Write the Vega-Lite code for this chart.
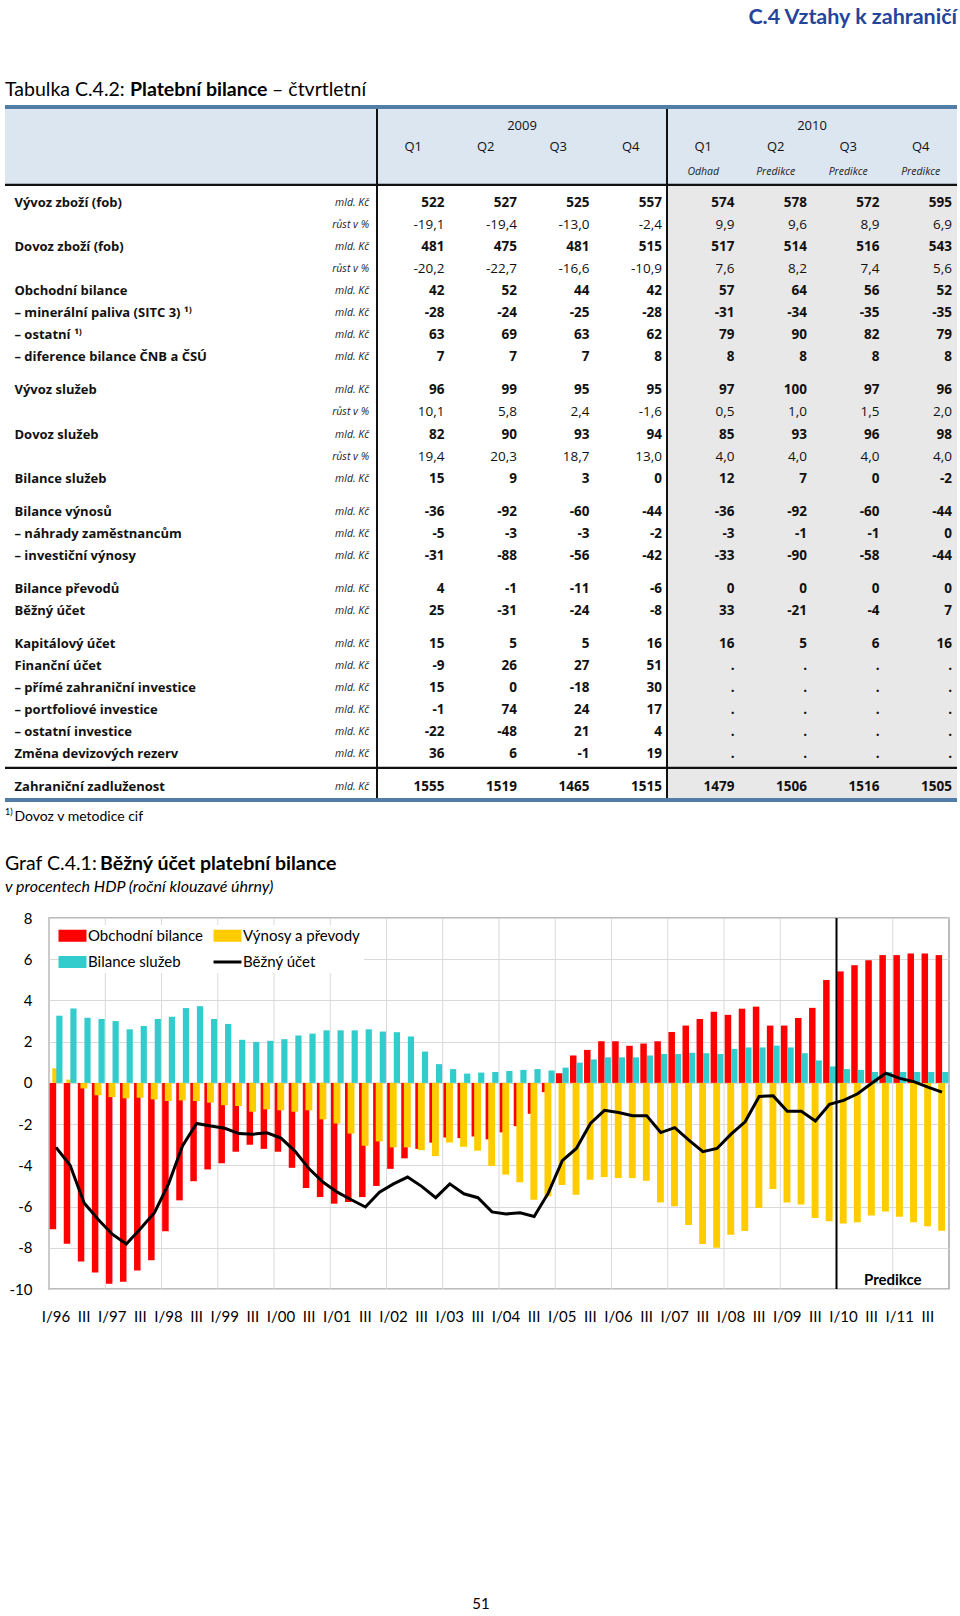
{
  "$schema": "https://vega.github.io/schema/vega-lite/v6.json",
  "padding": {"left": 2, "top": 0, "right": 0, "bottom": 0},
  "background": "white",
  "spacing": 0,
  "resolve": {"scale": {"color": "independent"}, "legend": {"color": "independent"}},
  "title": {"text": "51", "orient": "bottom", "anchor": "middle", "offset": 272, "font": "Lato", "fontSize": 15, "fontWeight": "normal", "color": "#000000"},
  "config": {"view": {"stroke": null}},
  "datasets": {
    "cols": [
      {"key": "label", "c": -5}, {"key": "unit", "c": 0},
      {"key": "a1", "c": 1}, {"key": "a2", "c": 2}, {"key": "a3", "c": 3}, {"key": "a4", "c": 4},
      {"key": "a5", "c": 5}, {"key": "a6", "c": 6}, {"key": "a7", "c": 7}, {"key": "a8", "c": 8}
    ],
    "tab": [
      {"r": 1, "label": "Vývoz zboží (fob)", "unit": "mld. Kč", "a1": "522", "a2": "527", "a3": "525", "a4": "557", "a5": "574", "a6": "578", "a7": "572", "a8": "595"},
      {"r": 2, "label": "", "unit": "růst v %", "a1": "-19,1", "a2": "-19,4", "a3": "-13,0", "a4": "-2,4", "a5": "9,9", "a6": "9,6", "a7": "8,9", "a8": "6,9"},
      {"r": 3, "label": "Dovoz zboží (fob)", "unit": "mld. Kč", "a1": "481", "a2": "475", "a3": "481", "a4": "515", "a5": "517", "a6": "514", "a7": "516", "a8": "543"},
      {"r": 4, "label": "", "unit": "růst v %", "a1": "-20,2", "a2": "-22,7", "a3": "-16,6", "a4": "-10,9", "a5": "7,6", "a6": "8,2", "a7": "7,4", "a8": "5,6"},
      {"r": 5, "label": "Obchodní bilance", "unit": "mld. Kč", "a1": "42", "a2": "52", "a3": "44", "a4": "42", "a5": "57", "a6": "64", "a7": "56", "a8": "52"},
      {"r": 6, "label": "– minerální paliva (SITC 3) ¹⁾", "unit": "mld. Kč", "a1": "-28", "a2": "-24", "a3": "-25", "a4": "-28", "a5": "-31", "a6": "-34", "a7": "-35", "a8": "-35"},
      {"r": 7, "label": "– ostatní ¹⁾", "unit": "mld. Kč", "a1": "63", "a2": "69", "a3": "63", "a4": "62", "a5": "79", "a6": "90", "a7": "82", "a8": "79"},
      {"r": 8, "label": "– diference bilance ČNB a ČSÚ", "unit": "mld. Kč", "a1": "7", "a2": "7", "a3": "7", "a4": "8", "a5": "8", "a6": "8", "a7": "8", "a8": "8"},
      {"r": 9.5, "label": "Vývoz služeb", "unit": "mld. Kč", "a1": "96", "a2": "99", "a3": "95", "a4": "95", "a5": "97", "a6": "100", "a7": "97", "a8": "96"},
      {"r": 10.5, "label": "", "unit": "růst v %", "a1": "10,1", "a2": "5,8", "a3": "2,4", "a4": "-1,6", "a5": "0,5", "a6": "1,0", "a7": "1,5", "a8": "2,0"},
      {"r": 11.5, "label": "Dovoz služeb", "unit": "mld. Kč", "a1": "82", "a2": "90", "a3": "93", "a4": "94", "a5": "85", "a6": "93", "a7": "96", "a8": "98"},
      {"r": 12.5, "label": "", "unit": "růst v %", "a1": "19,4", "a2": "20,3", "a3": "18,7", "a4": "13,0", "a5": "4,0", "a6": "4,0", "a7": "4,0", "a8": "4,0"},
      {"r": 13.5, "label": "Bilance služeb", "unit": "mld. Kč", "a1": "15", "a2": "9", "a3": "3", "a4": "0", "a5": "12", "a6": "7", "a7": "0", "a8": "-2"},
      {"r": 15, "label": "Bilance výnosů", "unit": "mld. Kč", "a1": "-36", "a2": "-92", "a3": "-60", "a4": "-44", "a5": "-36", "a6": "-92", "a7": "-60", "a8": "-44"},
      {"r": 16, "label": "– náhrady zaměstnancům", "unit": "mld. Kč", "a1": "-5", "a2": "-3", "a3": "-3", "a4": "-2", "a5": "-3", "a6": "-1", "a7": "-1", "a8": "0"},
      {"r": 17, "label": "– investiční výnosy", "unit": "mld. Kč", "a1": "-31", "a2": "-88", "a3": "-56", "a4": "-42", "a5": "-33", "a6": "-90", "a7": "-58", "a8": "-44"},
      {"r": 18.5, "label": "Bilance převodů", "unit": "mld. Kč", "a1": "4", "a2": "-1", "a3": "-11", "a4": "-6", "a5": "0", "a6": "0", "a7": "0", "a8": "0"},
      {"r": 19.5, "label": "Běžný účet", "unit": "mld. Kč", "a1": "25", "a2": "-31", "a3": "-24", "a4": "-8", "a5": "33", "a6": "-21", "a7": "-4", "a8": "7"},
      {"r": 21, "label": "Kapitálový účet", "unit": "mld. Kč", "a1": "15", "a2": "5", "a3": "5", "a4": "16", "a5": "16", "a6": "5", "a7": "6", "a8": "16"},
      {"r": 22, "label": "Finanční účet", "unit": "mld. Kč", "a1": "-9", "a2": "26", "a3": "27", "a4": "51", "a5": ".", "a6": ".", "a7": ".", "a8": "."},
      {"r": 23, "label": "– přímé zahraniční investice", "unit": "mld. Kč", "a1": "15", "a2": "0", "a3": "-18", "a4": "30", "a5": ".", "a6": ".", "a7": ".", "a8": "."},
      {"r": 24, "label": "– portfoliové investice", "unit": "mld. Kč", "a1": "-1", "a2": "74", "a3": "24", "a4": "17", "a5": ".", "a6": ".", "a7": ".", "a8": "."},
      {"r": 25, "label": "– ostatní investice", "unit": "mld. Kč", "a1": "-22", "a2": "-48", "a3": "21", "a4": "4", "a5": ".", "a6": ".", "a7": ".", "a8": "."},
      {"r": 26, "label": "Změna devizových rezerv", "unit": "mld. Kč", "a1": "36", "a2": "6", "a3": "-1", "a4": "19", "a5": ".", "a6": ".", "a7": ".", "a8": "."},
      {"r": 27.5, "label": "Zahraniční zadluženost", "unit": "mld. Kč", "a1": "1555", "a2": "1519", "a3": "1465", "a4": "1515", "a5": "1479", "a6": "1506", "a7": "1516", "a8": "1505"}
    ],
    "bop": [
      {"q": "I/96", "ob": -7.1, "bs": 3.26, "vp": 0.71, "bu": -3.13},
      {"q": "II/96", "ob": -7.8, "bs": 3.61, "vp": 0.16, "bu": -4.0},
      {"q": "III/96", "ob": -8.67, "bs": 3.16, "vp": -0.27, "bu": -5.83},
      {"q": "IV/96", "ob": -9.2, "bs": 3.1, "vp": -0.6, "bu": -6.63},
      {"q": "I/97", "ob": -9.75, "bs": 3.0, "vp": -0.69, "bu": -7.34},
      {"q": "II/97", "ob": -9.65, "bs": 2.6, "vp": -0.75, "bu": -7.82},
      {"q": "III/97", "ob": -9.1, "bs": 2.76, "vp": -0.72, "bu": -7.08},
      {"q": "IV/97", "ob": -8.6, "bs": 3.1, "vp": -0.8, "bu": -6.3},
      {"q": "I/98", "ob": -7.2, "bs": 3.21, "vp": -0.88, "bu": -4.9},
      {"q": "II/98", "ob": -5.7, "bs": 3.63, "vp": -0.85, "bu": -3.05},
      {"q": "III/98", "ob": -4.77, "bs": 3.72, "vp": -0.88, "bu": -1.97},
      {"q": "IV/98", "ob": -4.2, "bs": 3.1, "vp": -0.96, "bu": -2.09},
      {"q": "I/99", "ob": -3.9, "bs": 2.86, "vp": -1.08, "bu": -2.2},
      {"q": "II/99", "ob": -3.34, "bs": 2.09, "vp": -1.12, "bu": -2.46},
      {"q": "III/99", "ob": -3.0, "bs": 1.99, "vp": -1.4, "bu": -2.49},
      {"q": "IV/99", "ob": -3.2, "bs": 2.04, "vp": -1.28, "bu": -2.42},
      {"q": "I/00", "ob": -3.34, "bs": 2.12, "vp": -1.33, "bu": -2.68},
      {"q": "II/00", "ob": -4.12, "bs": 2.3, "vp": -1.4, "bu": -3.32},
      {"q": "III/00", "ob": -5.1, "bs": 2.39, "vp": -1.33, "bu": -4.17},
      {"q": "IV/00", "ob": -5.54, "bs": 2.55, "vp": -1.77, "bu": -4.82},
      {"q": "I/01", "ob": -5.86, "bs": 2.55, "vp": -1.97, "bu": -5.3},
      {"q": "II/01", "ob": -5.78, "bs": 2.55, "vp": -2.46, "bu": -5.67},
      {"q": "III/01", "ob": -5.54, "bs": 2.6, "vp": -3.05, "bu": -6.02},
      {"q": "IV/01", "ob": -5.0, "bs": 2.49, "vp": -2.84, "bu": -5.3},
      {"q": "I/02", "ob": -4.17, "bs": 2.46, "vp": -3.13, "bu": -4.9},
      {"q": "II/02", "ob": -3.66, "bs": 2.25, "vp": -3.13, "bu": -4.57},
      {"q": "III/02", "ob": -3.2, "bs": 1.52, "vp": -3.26, "bu": -5.02},
      {"q": "IV/02", "ob": -2.9, "bs": 0.91, "vp": -3.55, "bu": -5.57},
      {"q": "I/03", "ob": -2.65, "bs": 0.67, "vp": -2.89, "bu": -4.9},
      {"q": "II/03", "ob": -2.68, "bs": 0.45, "vp": -3.1, "bu": -5.38},
      {"q": "III/03", "ob": -2.6, "bs": 0.5, "vp": -3.29, "bu": -5.57},
      {"q": "IV/03", "ob": -2.74, "bs": 0.53, "vp": -4.03, "bu": -6.26},
      {"q": "I/04", "ob": -2.4, "bs": 0.58, "vp": -4.45, "bu": -6.36},
      {"q": "II/04", "ob": -2.1, "bs": 0.63, "vp": -4.82, "bu": -6.3},
      {"q": "III/04", "ob": -1.5, "bs": 0.67, "vp": -5.67, "bu": -6.48},
      {"q": "IV/04", "ob": -0.45, "bs": 0.6, "vp": -5.5, "bu": -5.35},
      {"q": "I/05", "ob": 0.47, "bs": 0.74, "vp": -4.96, "bu": -3.77},
      {"q": "II/05", "ob": 1.33, "bs": 0.98, "vp": -5.43, "bu": -3.18},
      {"q": "III/05", "ob": 1.6, "bs": 1.14, "vp": -4.7, "bu": -1.97},
      {"q": "IV/05", "ob": 2.02, "bs": 1.24, "vp": -4.57, "bu": -1.33},
      {"q": "I/06", "ob": 2.02, "bs": 1.24, "vp": -4.62, "bu": -1.44},
      {"q": "II/06", "ob": 1.8, "bs": 1.24, "vp": -4.62, "bu": -1.59},
      {"q": "III/06", "ob": 1.91, "bs": 1.33, "vp": -4.75, "bu": -1.59},
      {"q": "IV/06", "ob": 2.02, "bs": 1.4, "vp": -5.8, "bu": -2.41},
      {"q": "I/07", "ob": 2.47, "bs": 1.4, "vp": -5.99, "bu": -2.17},
      {"q": "II/07", "ob": 2.78, "bs": 1.46, "vp": -6.9, "bu": -2.78},
      {"q": "III/07", "ob": 3.1, "bs": 1.44, "vp": -7.82, "bu": -3.34},
      {"q": "IV/07", "ob": 3.45, "bs": 1.4, "vp": -8.0, "bu": -3.18},
      {"q": "I/08", "ob": 3.3, "bs": 1.65, "vp": -7.37, "bu": -2.49},
      {"q": "II/08", "ob": 3.6, "bs": 1.72, "vp": -7.19, "bu": -1.89},
      {"q": "III/08", "ob": 3.7, "bs": 1.72, "vp": -6.07, "bu": -0.66},
      {"q": "IV/08", "ob": 2.78, "bs": 1.81, "vp": -5.15, "bu": -0.63},
      {"q": "I/09", "ob": 2.78, "bs": 1.72, "vp": -5.8, "bu": -1.38},
      {"q": "II/09", "ob": 3.15, "bs": 1.44, "vp": -5.9, "bu": -1.38},
      {"q": "III/09", "ob": 3.64, "bs": 1.09, "vp": -6.55, "bu": -1.85},
      {"q": "IV/09", "ob": 4.99, "bs": 0.8, "vp": -6.71, "bu": -1.04},
      {"q": "I/10", "ob": 5.41, "bs": 0.67, "vp": -6.82, "bu": -0.85},
      {"q": "II/10", "ob": 5.71, "bs": 0.63, "vp": -6.76, "bu": -0.53},
      {"q": "III/10", "ob": 5.95, "bs": 0.53, "vp": -6.44, "bu": -0.02},
      {"q": "IV/10", "ob": 6.2, "bs": 0.53, "vp": -6.24, "bu": 0.47},
      {"q": "I/11", "ob": 6.2, "bs": 0.53, "vp": -6.5, "bu": 0.22},
      {"q": "II/11", "ob": 6.28, "bs": 0.53, "vp": -6.76, "bu": 0.06},
      {"q": "III/11", "ob": 6.28, "bs": 0.53, "vp": -6.95, "bu": -0.21},
      {"q": "IV/11", "ob": 6.2, "bs": 0.53, "vp": -7.17, "bu": -0.45}
    ]
  },
  "vconcat": [
    {
      "width": 908,
      "height": 910,
      "encoding": {
        "x": {"field": "c", "type": "quantitative", "scale": {"domain": [-4.5241, 8], "nice": false, "zero": false}, "axis": null},
        "y": {"field": "r", "type": "quantitative", "scale": {"domain": [-8.2063, 33.0636], "nice": false, "zero": false, "reverse": true}, "axis": null}
      },
      "layer": [
        {
          "data": {"values": [
            {"part": "header", "c": -5.131, "c2": 8, "r": -3.31, "r2": 0.18},
            {"part": "2010", "c": 4, "c2": 8, "r": 0.18, "r2": 28.0}
          ]},
          "mark": {"type": "rect"},
          "encoding": {
            "x2": {"field": "c2"}, "y2": {"field": "r2"},
            "fill": {"field": "part", "type": "nominal", "scale": {"domain": ["header", "2010"], "range": ["#dce6f1", "#e8e8e8"]}, "legend": null}
          }
        },
        {
          "data": {"values": [{"c": 0, "r": -3.31, "r2": 28.0}, {"c": 4, "r": -3.31, "r2": 28.0}]},
          "mark": {"type": "rule", "stroke": "#111111", "strokeWidth": 2},
          "encoding": {"y2": {"field": "r2"}}
        },
        {
          "data": {"values": [{"c": -5.131, "c2": 8, "r": 0.18}, {"c": -5.131, "c2": 8, "r": 26.62}]},
          "mark": {"type": "rule", "stroke": "#111111", "strokeWidth": 2.2},
          "encoding": {"x2": {"field": "c2"}}
        },
        {
          "data": {"values": [{"c": -5.131, "c2": 8, "r": -3.35}, {"c": -5.131, "c2": 8, "r": 28.08}]},
          "mark": {"type": "rule", "stroke": "#507ea6", "strokeWidth": 4},
          "encoding": {"x2": {"field": "c2"}}
        },
        {
          "data": {"values": [{"t": "C.4 Vztahy k zahraničí", "c": 8, "r": -7.41}]},
          "mark": {"type": "text", "font": "Lato", "fontSize": 21.5, "fontWeight": "bold", "color": "#24459b", "align": "right", "baseline": "middle"},
          "encoding": {"text": {"field": "t"}}
        },
        {
          "data": {"values": [
            {"t": "Tabulka C.4.2:", "c": -5.131, "r": -4.12},
            {"t": "– čtvrtletní", "c": -1.448, "r": -4.12},
            {"t": "Graf C.4.1:", "c": -5.131, "r": 30.98}
          ]},
          "mark": {"type": "text", "font": "Lato", "fontSize": 19.5, "color": "#000000", "align": "left", "baseline": "middle"},
          "encoding": {"text": {"field": "t"}}
        },
        {
          "data": {"values": [
            {"t": "Platební bilance", "c": -3.407, "r": -4.12},
            {"t": "Běžný účet platební bilance", "c": -3.82, "r": 30.98}
          ]},
          "mark": {"type": "text", "font": "Lato", "fontSize": 19.5, "fontWeight": "bold", "color": "#000000", "align": "left", "baseline": "middle"},
          "encoding": {"text": {"field": "t"}}
        },
        {
          "data": {"values": [{"t": "v procentech HDP (roční klouzavé úhrny)", "c": -5.131, "r": 32.02}]},
          "mark": {"type": "text", "font": "Lato", "fontSize": 16, "fontStyle": "italic", "color": "#000000", "align": "left", "baseline": "middle"},
          "encoding": {"text": {"field": "t"}}
        },
        {
          "data": {"values": [{"t": "1)", "c": -5.131, "r": 28.62}]},
          "mark": {"type": "text", "font": "Lato", "fontSize": 9, "color": "#000000", "align": "left", "baseline": "middle"},
          "encoding": {"text": {"field": "t"}}
        },
        {
          "data": {"values": [{"t": "Dovoz v metodice cif", "c": -5.0, "r": 28.85}]},
          "mark": {"type": "text", "font": "Lato", "fontSize": 14, "color": "#000000", "align": "left", "baseline": "middle"},
          "encoding": {"text": {"field": "t"}}
        },
        {
          "data": {"values": [
            {"t": "2009", "c": 2, "r": -2.49}, {"t": "2010", "c": 6, "r": -2.49},
            {"t": "Q1", "c": 0.5, "r": -1.54}, {"t": "Q2", "c": 1.5, "r": -1.54}, {"t": "Q3", "c": 2.5, "r": -1.54}, {"t": "Q4", "c": 3.5, "r": -1.54},
            {"t": "Q1", "c": 4.5, "r": -1.54}, {"t": "Q2", "c": 5.5, "r": -1.54}, {"t": "Q3", "c": 6.5, "r": -1.54}, {"t": "Q4", "c": 7.5, "r": -1.54}
          ]},
          "mark": {"type": "text", "font": "Open Sans", "fontSize": 13, "color": "#111111", "align": "center", "baseline": "middle"},
          "encoding": {"text": {"field": "t"}}
        },
        {
          "data": {"values": [
            {"t": "Odhad", "c": 4.5, "r": -0.41}, {"t": "Predikce", "c": 5.5, "r": -0.41},
            {"t": "Predikce", "c": 6.5, "r": -0.41}, {"t": "Predikce", "c": 7.5, "r": -0.41}
          ]},
          "mark": {"type": "text", "font": "Open Sans", "fontSize": 10.5, "fontStyle": "italic", "color": "#222222", "align": "center", "baseline": "middle"},
          "encoding": {"text": {"field": "t"}}
        },
        {
          "data": {"name": "tab"},
          "transform": [
            {"fold": ["label", "unit", "a1", "a2", "a3", "a4", "a5", "a6", "a7", "a8"], "as": ["key", "val"]},
            {"lookup": "key", "from": {"data": {"name": "cols"}, "key": "key", "fields": ["c"]}},
            {"filter": "datum.key === 'label'"}
          ],
          "mark": {"type": "text", "font": "Open Sans", "fontSize": 13, "fontWeight": "bold", "color": "#111111", "align": "left", "baseline": "middle"},
          "encoding": {"text": {"field": "val"}}
        },
        {
          "data": {"name": "tab"},
          "transform": [
            {"fold": ["label", "unit", "a1", "a2", "a3", "a4", "a5", "a6", "a7", "a8"], "as": ["key", "val"]},
            {"lookup": "key", "from": {"data": {"name": "cols"}, "key": "key", "fields": ["c"]}},
            {"filter": "datum.key === 'unit'"}
          ],
          "mark": {"type": "text", "font": "Open Sans", "fontSize": 10.5, "fontStyle": "italic", "color": "#222222", "align": "right", "baseline": "middle", "dx": -8},
          "encoding": {"text": {"field": "val"}}
        },
        {
          "data": {"name": "tab"},
          "transform": [
            {"fold": ["label", "unit", "a1", "a2", "a3", "a4", "a5", "a6", "a7", "a8"], "as": ["key", "val"]},
            {"lookup": "key", "from": {"data": {"name": "cols"}, "key": "key", "fields": ["c"]}},
            {"filter": "datum.key !== 'label' && datum.key !== 'unit' && datum.unit === 'mld. Kč'"}
          ],
          "mark": {"type": "text", "font": "Open Sans", "fontSize": 13.5, "fontWeight": "bold", "color": "#111111", "align": "right", "baseline": "middle", "dx": -5},
          "encoding": {"text": {"field": "val"}}
        },
        {
          "data": {"name": "tab"},
          "transform": [
            {"fold": ["label", "unit", "a1", "a2", "a3", "a4", "a5", "a6", "a7", "a8"], "as": ["key", "val"]},
            {"lookup": "key", "from": {"data": {"name": "cols"}, "key": "key", "fields": ["c"]}},
            {"filter": "datum.key !== 'label' && datum.key !== 'unit' && datum.unit !== 'mld. Kč'"}
          ],
          "mark": {"type": "text", "font": "Open Sans", "fontSize": 13.5, "color": "#111111", "align": "right", "baseline": "middle", "dx": -5},
          "encoding": {"text": {"field": "val"}}
        }
      ]
    },
    {
      "width": 900,
      "height": 371,
      "view": {"stroke": "#a6a6a6", "strokeWidth": 1.5},
      "data": {"name": "bop"},
      "encoding": {
        "x": {
          "field": "q", "type": "ordinal",
          "scale": {"type": "band", "paddingInner": 0, "paddingOuter": 0, "domain": [
            "I/96","II/96","III/96","IV/96","I/97","II/97","III/97","IV/97","I/98","II/98","III/98","IV/98","I/99","II/99","III/99","IV/99",
            "I/00","II/00","III/00","IV/00","I/01","II/01","III/01","IV/01","I/02","II/02","III/02","IV/02","I/03","II/03","III/03","IV/03",
            "I/04","II/04","III/04","IV/04","I/05","II/05","III/05","IV/05","I/06","II/06","III/06","IV/06","I/07","II/07","III/07","IV/07",
            "I/08","II/08","III/08","IV/08","I/09","II/09","III/09","IV/09","I/10","II/10","III/10","IV/10","I/11","II/11","III/11","IV/11"
          ]},
          "axis": {
            "title": null, "labelAngle": 0, "labelFont": "Lato", "labelFontSize": 15, "labelColor": "#000000",
            "labelPadding": 20, "ticks": false, "tickSize": 0, "domain": false, "grid": false, "labelOverlap": false, "labelBound": false,
            "labelExpr": "indexof(datum.value, 'III/') == 0 ? 'III' : (indexof(datum.value, 'I/') == 0 ? datum.value : '')"
          }
        }
      },
      "layer": [
        {
          "transform": [{"filter": "indexof(datum.q, 'I/') == 0"}],
          "mark": {"type": "rule", "stroke": "#d9d9d9", "strokeWidth": 1, "xOffset": -7.03},
          "encoding": {}
        },
        {
          "mark": {"type": "bar", "width": 6.5, "xOffset": -3.1},
          "encoding": {
            "y": {
              "field": "ob", "type": "quantitative", "stack": null,
              "scale": {"domain": [-10, 8], "nice": false, "zero": false},
              "axis": {
                "title": null, "values": [-10, -8, -6, -4, -2, 0, 2, 4, 6, 8], "grid": true, "gridColor": "#d9d9d9", "gridWidth": 1,
                "domain": false, "ticks": false, "tickSize": 0, "labelPadding": 17, "labelFont": "Lato", "labelFontSize": 15, "labelColor": "#000000",
                "labelExpr": "replace(datum.label, '−', '-')"
              }
            },
            "color": {
              "datum": "Obchodní bilance",
              "scale": {"domain": ["Obchodní bilance", "Bilance služeb", "Výnosy a převody", "Běžný účet"], "range": ["#ff0000", "#33cccc", "#ffcc00", "#000000"]},
              "legend": {
                "title": null, "orient": "none", "legendX": 13, "legendY": 7, "columns": 2, "padding": 3, "fillColor": "#ffffff",
                "symbolType": "M-1,-0.43H1V0.43H-1Z", "symbolSize": 784, "symbolStrokeWidth": 0,
                "labelFont": "Lato", "labelFontSize": 15, "labelColor": "#000000", "labelOffset": 8, "columnPadding": 4, "rowPadding": 10.5,
                "encode": {"symbols": {"update": {
                  "shape": {"signal": "datum.value === 'Běžný účet' ? 'M-1,0H1' : 'M-1,-0.43H1V0.43H-1Z'"},
                  "fill": {"signal": "datum.value === 'Obchodní bilance' ? '#ff0000' : datum.value === 'Výnosy a převody' ? '#ffcc00' : datum.value === 'Bilance služeb' ? '#33cccc' : 'transparent'"},
                  "stroke": {"signal": "datum.value === 'Běžný účet' ? '#000000' : 'transparent'"},
                  "strokeWidth": {"signal": "datum.value === 'Běžný účet' ? 3 : 0"},
                  "opacity": {"value": 1}
                }}}
              }
            }
          }
        },
        {
          "mark": {"type": "bar", "width": 6.9, "xOffset": -0.3},
          "encoding": {
            "y": {"field": "vp", "type": "quantitative", "stack": null, "axis": {"title": null}},
            "color": {"datum": "Výnosy a převody"}
          }
        },
        {
          "mark": {"type": "bar", "width": 6.2, "xOffset": 3.35},
          "encoding": {
            "y": {"field": "bs", "type": "quantitative", "stack": null, "axis": {"title": null}},
            "color": {"datum": "Bilance služeb"}
          }
        },
        {
          "mark": {"type": "line", "strokeWidth": 3},
          "encoding": {
            "y": {"field": "bu", "type": "quantitative", "axis": {"title": null}},
            "color": {"datum": "Běžný účet"}
          }
        },
        {
          "transform": [{"filter": "datum.q === 'I/10'"}],
          "mark": {"type": "rule", "stroke": "#000000", "strokeWidth": 2, "xOffset": -7.03},
          "encoding": {}
        },
        {
          "data": {"values": [{"q": "I/11", "v": -9.55, "t": "Predikce"}]},
          "mark": {"type": "text", "font": "Lato", "fontSize": 15, "fontWeight": "bold", "color": "#000000", "align": "center", "baseline": "middle", "xOffset": -7},
          "encoding": {
            "y": {"field": "v", "type": "quantitative", "axis": {"title": null}},
            "text": {"field": "t"}
          }
        }
      ]
    }
  ]
}
